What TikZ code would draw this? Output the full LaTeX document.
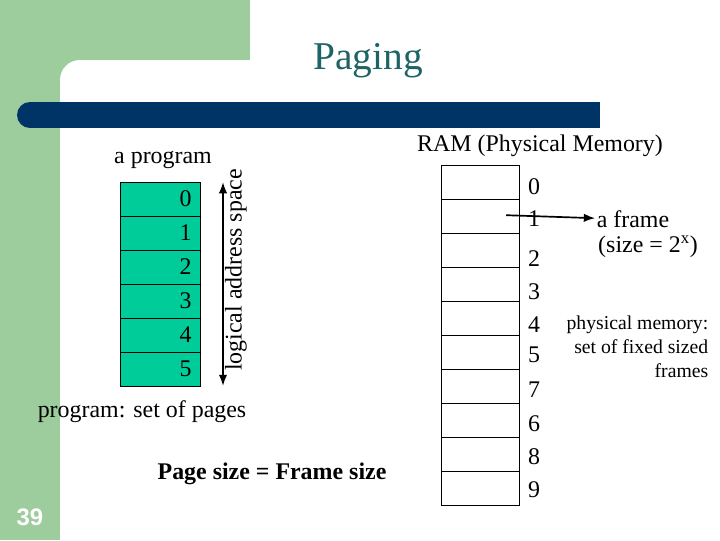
\documentclass[tikz,border=0pt]{standalone}
\usepackage{fontspec}
\setmainfont{Liberation Serif}
\newfontfamily\numfont{Liberation Sans}
\usetikzlibrary{arrows.meta}
\definecolor{sidegreen}{RGB}{157,204,157}
\definecolor{barblue}{RGB}{0,51,102}
\definecolor{pagegreen}{RGB}{0,204,153}
\definecolor{titleteal}{RGB}{30,100,100}
\tikzset{
  page/.style={draw, fill=pagegreen, minimum width=2cm, minimum height=0.85cm, inner sep=0pt},
  frame/.style={draw, fill=white, minimum width=1.95cm, minimum height=0.85cm, inner sep=0pt},
  txt/.style={font=\fontsize{17}{19}\selectfont, inner sep=1pt},
}

\begin{document}
\begin{tikzpicture}[x=0.025cm, y=-0.025cm, line width=0.5pt]
  \useasboundingbox (0,0) rectangle (720,540);
  % background
  \fill[sidegreen] (0,0) rectangle (250,60);
  \fill[sidegreen] (0,0) rectangle (60,540);
  \fill[sidegreen] (60,60) rectangle (80,80);
  \fill[white] (80,80) circle (20);
  \fill[white] (80,60) rectangle (250,100);
  \fill[white] (60,80) rectangle (100,540);
  \fill[barblue] (30,102) rectangle (600,128);
  \fill[barblue] (30,115) circle (13);
  \node[font=\fontsize{28}{30}\selectfont, text=titleteal] (title) at (368,61) {Paging};
  \node[font=\numfont\bfseries\fontsize{17}{19}\selectfont, text=white] (slideno) at (30,517) {39};
  % the program
  \node[txt] (prog) at (163,160) {a program};
  \foreach \i in {0,...,5} {
    \node[page] (p\i) at (160,{199+34*\i}) {};
    \node[txt, anchor=east] at ([xshift=-5pt] p\i.east) {\i};
  }
  \coordinate (lt) at (223,182);
  \coordinate (lb) at (223,386);
  \draw[{Latex[length=8pt,width=6pt]}-{Latex[length=8pt,width=6pt]}, line width=1.3pt] (lt) -- (lb);
  \node[txt, rotate=90] (lspace) at (236,270) {logical address space};
  \node[txt] (pset) at (142,412) {program: set of pages};
  \node[txt, font=\bfseries\fontsize{17}{19}\selectfont] (psize) at (272,474) {Page size = Frame size};
  % the RAM
  \node[txt] (ram) at (540,146) {RAM (Physical Memory)};
  \foreach \i in {0,...,9} {
    \node[frame] (f\i) at (480,{182+34*\i}) {};
  }
  \foreach \n/\y in {0/187, 1/219, 2/259, 3/292, 4/325, 5/355, 7/390, 6/424, 8/457, 9/490} {
    \node[txt] at (534,\y) {\n};
  }
  \node[txt] (fr) at (633,219) {a frame};
  \node[txt] (frsize) at (648,247) {(size = 2\textsuperscript{x})};
  \draw[-{Latex[length=8pt,width=6pt]}, line width=1.2pt] ([xshift=-0.33cm, yshift=0.02cm] f1.east) -- ([yshift=0.02cm] fr.west);
  \node[txt, font=\fontsize{14}{17}\selectfont, align=right, anchor=north east] (pmem) at (710,314) {physical memory:\\set of fixed sized\\frames};
\end{tikzpicture}
\end{document}
